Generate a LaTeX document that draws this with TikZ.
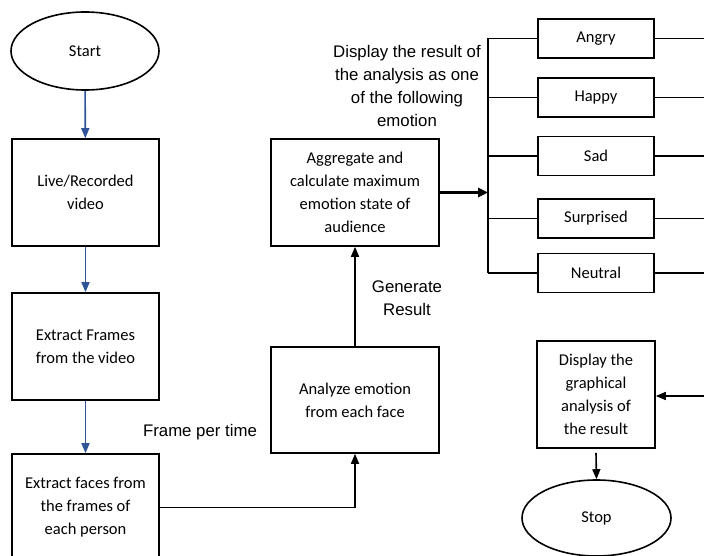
\documentclass[tikz,border=0pt]{standalone}
\usepackage{fontspec}
\setmainfont{Carlito}
\newfontfamily\lblfont{Liberation Sans}
\usetikzlibrary{shapes.geometric,arrows.meta}
\definecolor{arrblue}{HTML}{2F5597}
\tikzset{
  box/.style={draw=black,line width=1.6pt,align=center,font=\fontsize{16.5}{23}\selectfont,inner sep=2pt},
  oval/.style={draw=black,line width=1.6pt,ellipse,align=center,font=\fontsize{16.5}{23}\selectfont,inner sep=0pt},
  emo/.style={box,minimum width=116pt,minimum height=39pt},
  bigbox/.style={box,minimum width=147pt,minimum height=107pt},
  midbox/.style={box,minimum width=168pt,minimum height=107pt},
  blue arrow/.style={draw=arrblue,line width=1.6pt,-{Triangle[length=10pt,width=8pt]}},
  blk arrow/.style={draw=black,line width=1.6pt,-{Triangle[length=10pt,width=8pt]}},
  thick arrow/.style={draw=black,line width=2.6pt,-{Triangle[length=10pt,width=9pt]}},
  wire/.style={draw=black,line width=1.6pt},
  lbl/.style={align=center,font=\lblfont\fontsize{16.8}{23}\selectfont,inner sep=0pt}
}
\begin{document}
\begin{tikzpicture}[x=1pt,y=-1pt]
\clip (0,0) rectangle (704,556);
\fill[white] (0,0) rectangle (704,556);

\node[oval,minimum width=148pt,minimum height=78pt] (start) at (85,51) {Start};
\node[bigbox] (live) at (85.5,192.5) {Live/Recorded\\video};
\node[bigbox] (frames) at (85.5,346.5) {Extract Frames\\from the video};
\node[bigbox] (faces) at (85.5,507.5) {Extract faces from\\the frames of\\each person};
\node[midbox,minimum height=106pt] (analyze) at (355,400) {Analyze emotion\\from each face};
\node[midbox] (agg) at (355,192.5) {Aggregate and\\calculate maximum\\emotion state of\\audience};

\node[emo] (angry) at (596,38.5) {Angry};
\node[emo] (happy) at (596,97.5) {Happy};
\node[emo] (sad) at (596,156) {Sad};
\node[emo] (surp) at (596,218.5) {Surprised};
\node[emo] (neut) at (596,273) {Neutral};

\node[box,minimum width=118pt,minimum height=107pt] (disp) at (596,394.5) {Display the\\graphical\\analysis of\\the result};
\node[oval,minimum width=149pt,minimum height=76pt] (stop) at (596.5,518) {Stop};

\node[lbl] (lres) at (407,86) {Display the result of\\the analysis as one\\of the following\\emotion};
\node[lbl] (lgen) at (407,298) {Generate\\Result};
\node[lbl] (lfpt) at (200,432) {Frame per time};

\coordinate (bustop) at (488,38.5);
\coordinate (busbot) at (488,273);
\coordinate (busmid) at (488,192.5);
\coordinate (eA) at (706,38.5);
\coordinate (eH) at (706,97.5);
\coordinate (eS) at (706,156);
\coordinate (eU) at (706,218.5);
\coordinate (eN) at (706,273);
\coordinate (eD) at (706,396);

\draw[blue arrow] (start) -- (live);
\draw[blue arrow] (live) -- (frames);
\draw[blue arrow] (frames) -- (faces);
\draw[blk arrow] (faces.east) -| (analyze.south);
\draw[blk arrow] (analyze) -- (agg);
\draw[thick arrow] (agg.east) -- (busmid);
\draw[wire] (bustop) -- (busbot);
\draw[wire] (bustop) -- (angry.west);
\draw[wire] (bustop |- happy) -- (happy.west);
\draw[wire] (bustop |- sad) -- (sad.west);
\draw[wire] (bustop |- surp) -- (surp.west);
\draw[wire] (busbot) -- (neut.west);
\draw[wire] (angry.east) -- (eA);
\draw[wire] (happy.east) -- (eH);
\draw[wire] (sad.east) -- (eS);
\draw[wire] (surp.east) -- (eU);
\draw[wire] (neut.east) -- (eN);
\draw[blk arrow] (eD) -- (disp.east |- eD);
\draw[blk arrow] ([yshift=-4pt]disp.south) -- (stop.north);
\end{tikzpicture}
\end{document}
